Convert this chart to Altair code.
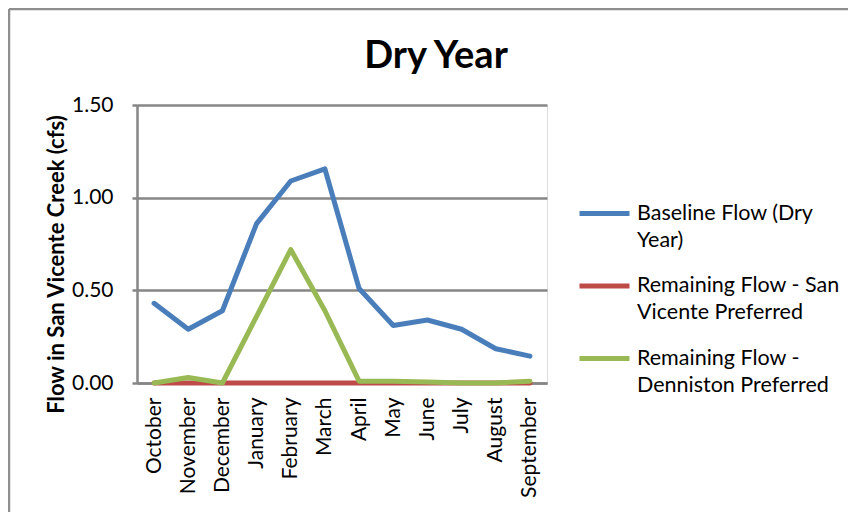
import altair as alt
import pandas as pd

# ---- data ----
months = ["October", "November", "December", "January", "February", "March",
          "April", "May", "June", "July", "August", "September"]
baseline_flow = [0.43, 0.29, 0.39, 0.86, 1.09, 1.155, 0.51, 0.31, 0.34, 0.29, 0.185, 0.145]
san_vicente_pref = [0.0, 0.0, 0.0, 0.0, 0.0, 0.0, 0.0, 0.0, 0.0, 0.0, 0.0, 0.0]
denniston_pref = [0.0, 0.03, 0.0, 0.36, 0.72, 0.39, 0.01, 0.01, 0.005, 0.0, 0.0, 0.01]

series_names = ["Baseline Flow (Dry|Year)",
                "Remaining Flow - San|Vicente Preferred",
                "Remaining Flow -|Denniston Preferred"]
series_colors = ["#4A7EBB", "#BE4B48", "#98B954"]
y_ticks = [0.0, 0.5, 1.0, 1.5]

rows = []
for name, vals in zip(series_names, [baseline_flow, san_vicente_pref, denniston_pref]):
    for m, v in zip(months, vals):
        rows.append({"month": m, "flow": v, "series": name})
df = pd.DataFrame(rows)

FONT = "Lato"
GRAY = "#868686"

lines = alt.Chart(df).mark_line(strokeWidth=5, strokeCap="round", strokeJoin="round").encode(
    x=alt.X("month:N", sort=months, title=None,
            scale=alt.Scale(type="point", padding=0.5),
            axis=alt.Axis(labelAngle=-90, ticks=False, labelPadding=14,
                          labelFont=FONT, labelFontSize=21, labelColor="black",
                          domainColor=GRAY, domainWidth=2.5, grid=False)),
    y=alt.Y("flow:Q", title="Flow in San Vicente Creek (cfs)",
            scale=alt.Scale(domain=[0, 1.5], nice=False, zero=True),
            axis=alt.Axis(values=y_ticks, format=".2f", grid=True, gridColor=GRAY,
                          gridWidth=2.5, domainColor=GRAY, domainWidth=2.5,
                          tickColor=GRAY, tickWidth=2.5, tickSize=5, labelPadding=19,
                          labelFont=FONT, labelFontSize=21, labelColor="black",
                          titleFont=FONT, titleFontSize=22, titleFontWeight="bold",
                          titleColor="black", titleAngle=-90, titleAlign="center",
                          titleBaseline="middle", titleX=-81, titleY=159)),
    color=alt.Color("series:N", sort=series_names,
                    scale=alt.Scale(domain=series_names, range=series_colors),
                    legend=alt.Legend(title=None, orient="none", legendX=440, legendY=81,
                                      symbolType="stroke", symbolStrokeWidth=5,
                                      symbolSize=2500, labelOffset=5, rowPadding=7.5,
                                      labelFont=FONT, labelFontSize=21.5, labelColor="black",
                                      labelLimit=400, padding=0,
                                      labelBaseline="middle",
                                      labelExpr="split(datum.label, '|')")),
    order=alt.value(0),
)

frame_top = alt.Chart(pd.DataFrame({"k": [0]})).mark_rule(color="#8f8f8f", strokeWidth=2.5).encode(
    y=alt.value(-96), x=alt.value(-128), x2=alt.value(900))
frame_left = alt.Chart(pd.DataFrame({"k": [0]})).mark_rule(color="#8f8f8f", strokeWidth=2.5).encode(
    x=alt.value(-128), y=alt.value(-96), y2=alt.value(600))

chart = alt.layer(lines, frame_top, frame_left).properties(
    width=410, height=278,
    title=alt.TitleParams("Dry Year", font=FONT, fontSize=38, fontWeight="bold",
                          color="black", anchor="middle", dx=94, dy=136, offset=38,
                          baseline="alphabetic", frame="group"),
    autosize=alt.AutoSizeParams(type="none"),
    padding={"left": 129, "top": 97, "right": 301, "bottom": 129},
).configure_view(stroke=None).configure(
    background="white",
    style={"guide-label": {"lineHeight": 27, "font": FONT, "fontSize": 21, "fill": "black"}})

chart.save("out.html", embed_options={"renderer": "svg", "actions": False})
